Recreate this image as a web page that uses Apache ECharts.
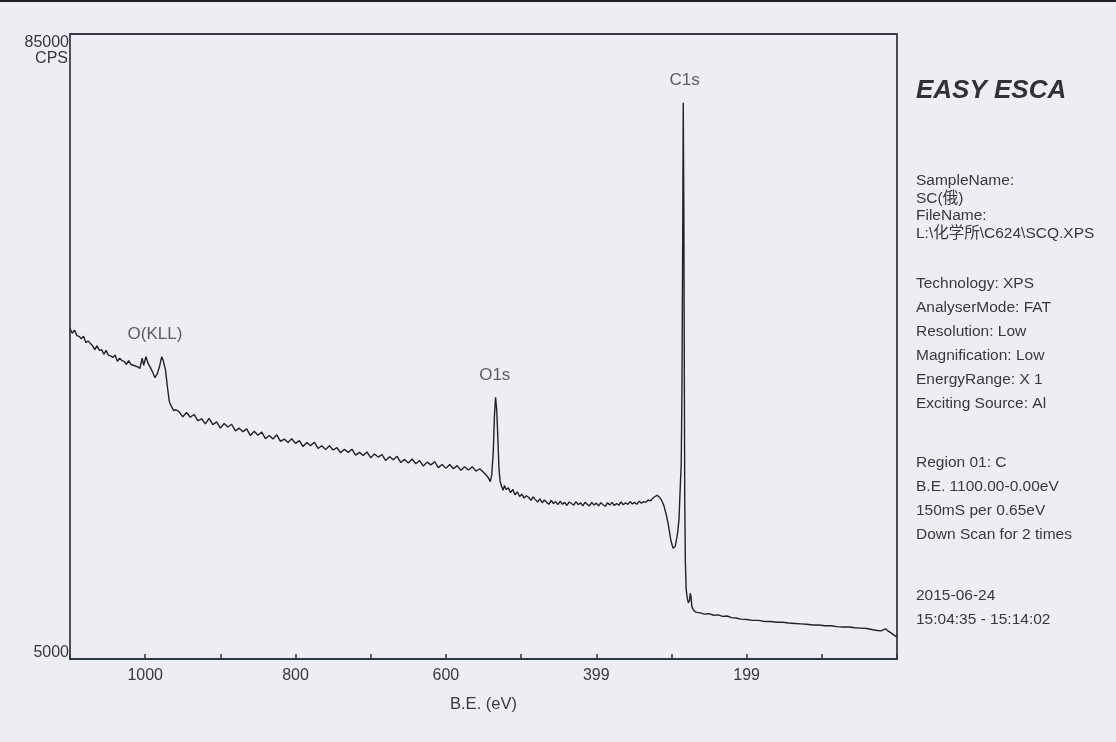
<!DOCTYPE html>
<html><head><meta charset="utf-8">
<script src="https://cdn.jsdelivr.net/npm/echarts@6/dist/echarts.min.js"></script>
<style>html,body{margin:0;padding:0;background:#eceef3;} #c{width:1116px;height:742px;}</style>
</head><body><div id="c"></div>
<script>
// Binding energy (eV), descending, and counts per second
const bindingEnergy = [
1100,1097,1094,1091,1088,1085,1082,1079,1076,1073,1070,1067,1064,1061,1058,1055,1052,1049,1046,1043,
1040,1037,1034,1031,1028,1025,1022,1019,1016,1013,1010,1007,1004,1002,999,996,993,990,987,984,
981,978,976,973,970,968,965,962,959,
955,950,945,940,935,930,925,920,915,910,905,900,895,890,885,880,875,870,865,860,
855,850,845,840,835,830,825,820,815,810,805,800,795,790,785,780,775,770,765,760,
755,750,745,740,735,730,725,720,715,710,705,700,695,690,685,680,675,670,665,660,
655,650,645,640,635,630,625,620,615,610,605,600,595,590,585,580,575,570,565,560,555,
550,546,543,541,539,537,535.5,534,532.5,531,529.5,528,526,524,522,520,517,514,511,
508,505,502,499,496,493,490,487,484,481,478,475,472,469,466,463,460,457,454,451,
448,445,442,439,436,433,430,427,424,421,418,415,412,409,406,403,400,397,394,391,
388,385,382,379,376,373,370,367,364,361,358,355,352,349,346,343,340,337,334,331,
328,325,322,319,316,313,310,307,304,301,298,295,292,290,288.5,287,286,285,284.3,283.5,
283,282.3,281.5,280.5,279,277.5,276,275,274,273,271,268,
262,256,250,244,238,232,226,220,214,208,200,192,184,176,168,160,152,144,136,128,
120,112,104,96,88,80,72,64,56,48,40,32,26,21,18,15,12,8,4,0
];
const countsPerSecond = [
47300,46700,47100,46400,46300,46000,46300,45500,45700,45400,45100,44600,45100,44500,44600,44000,44500,43900,43800,43600,
43900,43100,43500,43200,43100,42700,43200,42700,42600,42500,42400,42200,43500,42600,43700,42800,42300,41700,41000,41500,
42400,43700,43200,42000,39500,38000,37300,36800,36900,
36650,36000,36550,35950,36300,35500,35750,35100,35800,35000,35350,34550,35150,34700,35050,34200,34550,34100,34450,33600,
34150,33650,34050,33200,33600,33150,33700,32850,33150,32700,33200,32600,32950,32200,32700,32300,32750,31950,32300,31800,
32300,31750,32050,31400,31850,31450,31850,31100,31450,31050,31500,30750,31250,30850,31150,30400,30900,30500,30950,30150,
30550,30100,30600,30000,30400,29700,30200,29850,30250,29500,29900,29400,29900,29350,29750,29150,29600,29200,29600,29050,29350,
28900,28500,28100,27700,28600,31500,36000,38500,37000,33500,29500,27800,27100,26600,27200,26700,26900,26300,26700,
26000,26400,25800,26100,25600,25900,25700,25300,25750,25400,25100,25500,25000,25350,25050,24800,25300,24900,25150,24750,
25200,24800,25050,24650,25100,24900,24700,25150,24750,25000,24600,25050,24800,24600,25050,24700,24950,24600,25000,24750,
24550,25000,24700,25050,24650,24900,24700,25100,24750,25000,24800,25150,24850,25050,24800,25200,24950,25150,25050,25350,
25250,25550,25800,25950,25700,25300,24600,23500,22100,20300,19200,19400,21000,22800,26500,30000,40000,60000,76200,62000,
45000,25000,17500,14000,12800,12200,12500,13400,13000,11800,11300,11000,
10900,10750,10800,10600,10650,10450,10500,10300,10250,10100,10050,9950,9950,9800,9800,9700,9700,9600,9550,9500,
9450,9350,9350,9250,9250,9150,9100,9100,9000,8950,8900,8750,8650,8600,8750,8850,8600,8350,8050,7800
];
const xTickValues = [1000, 800, 600, 400, 200];
const xTickLabels = ['1000', '800', '600', '399', '199'];
const yTickValues = [85000, 5000];
const yTickLabels = ['85000', '5000'];
const yUnit = 'CPS';
const xName = 'B.E. (eV)';
const peakNames = ['O(KLL)', 'O1s', 'C1s'];
const peakLabelBE = [987, 535, 282.5];
const peakLabelCPS = [46500, 41300, 79100];
const infoTitle = 'EASY ESCA';
const infoGroups = [
  ['SampleName:', 'SC(俄)', 'FileName:', 'L:\\化学所\\C624\\SCQ.XPS'],
  ['Technology: XPS', 'AnalyserMode: FAT', 'Resolution: Low', 'Magnification: Low', 'EnergyRange: X 1', 'Exciting Source: Al'],
  ['Region 01: C', 'B.E. 1100.00-0.00eV', '150mS per 0.65eV', 'Down Scan for 2 times'],
  ['2015-06-24', '15:04:35 - 15:14:02']
];

const FONT = '"Liberation Sans", Arial, "Noto Sans CJK SC", sans-serif';
const TXT = '#38383d';
const chart = echarts.init(document.getElementById('c'));
const spectrum = bindingEnergy.map((e, i) => [e, countsPerSecond[i]]);
chart.setOption({
  backgroundColor: '#eceef3',
  animation: false,
  grid: {left: 70, top: 34, right: 219, bottom: 83, show: true, borderColor: '#3a3b46', borderWidth: 1.8, backgroundColor: 'transparent'},
  xAxis: {
    type: 'value', inverse: true, min: 0, max: 1100, interval: 100,
    axisLine: {show: true, lineStyle: {color: '#2a3a44', width: 2}},
    axisTick: {show: true, inside: true, length: 5, lineStyle: {color: '#333', width: 1.5}},
    axisLabel: {color: TXT, fontSize: 16, fontFamily: FONT, margin: 9,
      formatter: v => { const k = xTickValues.indexOf(v); return k >= 0 ? xTickLabels[k] : ''; }},
    splitLine: {show: false},
    name: xName, nameLocation: 'middle', nameGap: 37,
    nameTextStyle: {color: TXT, fontSize: 16.5, fontFamily: FONT}
  },
  yAxis: {
    type: 'value', min: 5000, max: 85000, interval: 80000,
    axisLine: {show: false}, axisTick: {show: false}, axisLabel: {show: false}, splitLine: {show: false}
  },
  series: [
    {type: 'line', data: spectrum, symbol: 'none', lineStyle: {color: '#232325', width: 1.4}, z: 3},
    {type: 'scatter', silent: true, symbolSize: 1, itemStyle: {color: 'rgba(0,0,0,0)'},
     data: peakNames.map((n, i) => ({name: n, value: [peakLabelBE[i], peakLabelCPS[i]]})),
     label: {show: true, position: 'inside', formatter: '{b}', color: TXT, fontSize: 17, fontFamily: FONT}}
  ]
});

const g = [];
g.push({type: 'rect', left: 0, top: 0, shape: {width: 1116, height: 2}, style: {fill: '#222'}});
yTickValues.forEach((v, i) => {
  const p = chart.convertToPixel({gridIndex: 0}, [1100, v]);
  const top = i === 0;
  g.push({type: 'text', x: p[0] - 1, y: top ? p[1] + 1 : p[1] + 2,
    style: {text: yTickLabels[i], fill: TXT, font: '16px ' + FONT, textAlign: 'right', textVerticalAlign: top ? 'top' : 'bottom'}});
  if (top) {
    g.push({type: 'text', x: p[0] - 2, y: p[1] + 17,
      style: {text: yUnit, fill: TXT, font: '16px ' + FONT, textAlign: 'right', textVerticalAlign: 'top'}});
  }
});
const px = 916;
g.push({type: 'text', x: px, y: 91, style: {text: infoTitle, fill: '#313136', font: 'italic bold 26px ' + FONT, textVerticalAlign: 'middle'}});
const groupStart = [181, 284, 463, 596];
const groupStep = [17.5, 24, 24, 24];
infoGroups.forEach((lines, gi) => {
  lines.forEach((t, li) => {
    g.push({type: 'text', x: px, y: groupStart[gi] + li * groupStep[gi],
      style: {text: t, fill: TXT, font: '15.5px ' + FONT, textVerticalAlign: 'middle'}});
  });
});
chart.setOption({graphic: g});
</script></body></html>
